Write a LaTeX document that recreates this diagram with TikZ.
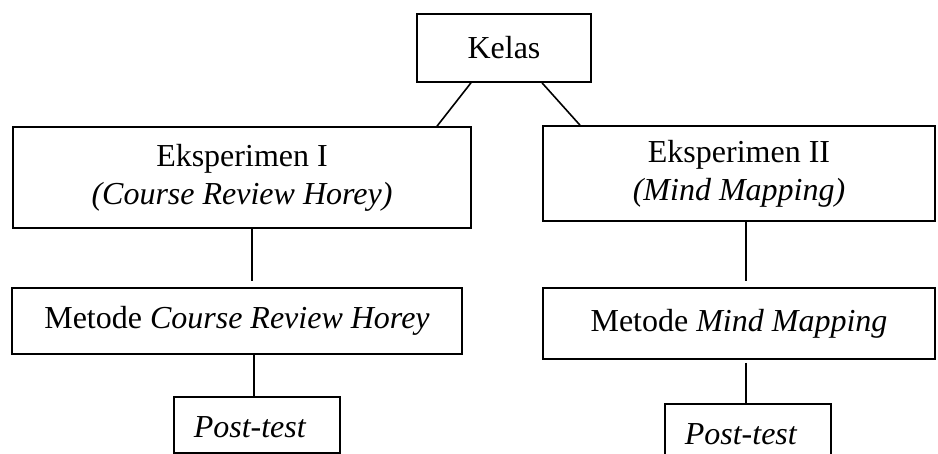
\documentclass[tikz,border=0pt]{standalone}
\usepackage{fontspec}
\setmainfont{Liberation Serif}
\usepackage{tikz}

\begin{document}
\begin{tikzpicture}[x=1pt,y=-1pt,
    box/.style={draw,line width=1.6pt,inner sep=0pt,align=center,font=\fontsize{32}{38}\selectfont},
    testbox/.style={draw,line width=1.6pt,anchor=north west,inner xsep=20pt,inner ysep=4pt,
        text width=126pt,align=left,text height=37pt,font=\fontsize{32}{38}\selectfont\itshape},
    link/.style={line width=1.6pt}]
    %set diagram size to the page
    \useasboundingbox (0,0) rectangle (938,453);
    \clip (0,0) rectangle (938,453);

    %Shape: Rectangle, top
    \node [box,minimum width=174pt,minimum height=68pt] (kelas) at (504,48) {Kelas};

    %Shape: Rectangle, group I
    \node [box,minimum width=458pt,minimum height=101pt] (eks1) at (242,177.5)
        {Eksperimen I\\\textit{(Course Review Horey)}};
    %Shape: Rectangle, group II
    \node [box,minimum width=392pt,minimum height=95pt] (eks2) at (739,173.5)
        {Eksperimen II\\\textit{(Mind Mapping)}};

    %Shape: Rectangle, method I
    \node [box,minimum width=450pt,minimum height=66pt] (met1) at (237,321)
        {Metode \textit{Course Review Horey}};
    %Shape: Rectangle, method II
    \node [box,minimum width=392pt,minimum height=71pt] (met2) at (739,323.5)
        {Metode \textit{Mind Mapping}};

    %Shape: Rectangle, tests
    \node [testbox,text depth=11pt] (post1) at (173,396) {Post-test};
    \node [testbox,text depth=30pt] (post2) at (664,403) {Post-test};

    %Straight Lines
    \draw [link] ([xshift=-33pt]kelas.south) -- ([xshift=195pt]eks1.north);
    \draw [link] ([xshift=38pt]kelas.south) -- ([xshift=-159pt]eks2.north);
    \draw [link,shorten >=6pt] ([xshift=10pt]eks1.south) -- ([xshift=10pt]eks1.south |- met1.north);
    \draw [link] ([xshift=17pt]met1.south) -- ([xshift=17pt]met1.south |- post1.north);
    \draw [link,shorten >=6pt] ([xshift=7pt]eks2.south) -- ([xshift=7pt]eks2.south |- met2.north);
    \draw [link,shorten <=3pt] ([xshift=7pt]met2.south) -- ([xshift=7pt]met2.south |- post2.north);

\end{tikzpicture}
\end{document}
